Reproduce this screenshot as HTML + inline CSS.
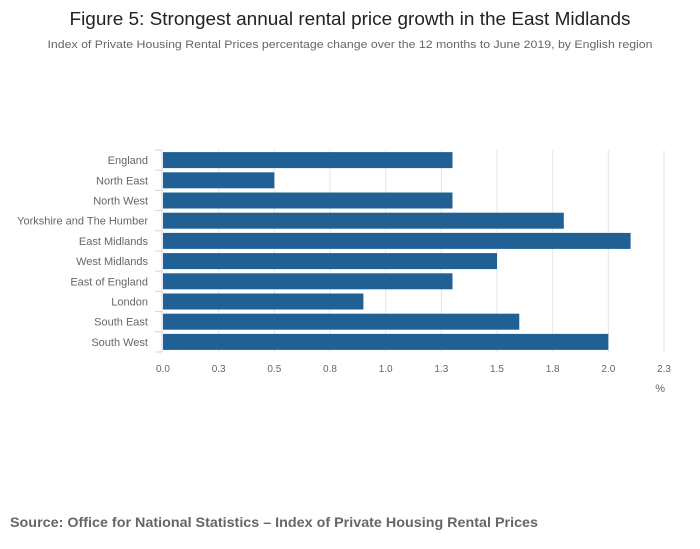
<!DOCTYPE html>
<html><head><meta charset="utf-8"><style>
body{margin:0;background:#fff;}
svg{display:block;font-family:"Liberation Sans",sans-serif;}
</style></head><body>
<svg id="chart" width="700" height="549">
<text x="350" y="25" text-anchor="middle" font-size="18" fill="#222" textLength="561" lengthAdjust="spacingAndGlyphs">Figure 5: Strongest annual rental price growth in the East Midlands</text>
<text x="350" y="48" text-anchor="middle" font-size="11" fill="#666" textLength="605" lengthAdjust="spacingAndGlyphs">Index of Private Housing Rental Prices percentage change over the 12 months to June 2019, by English region</text>
<g id="grid"></g><g id="bars"></g><g id="axes"></g>
<text x="665" y="392" text-anchor="end" font-size="11" fill="#666">%</text>
<text x="10" y="527" font-size="14" font-weight="bold" fill="#666" textLength="528" lengthAdjust="spacingAndGlyphs">Source: Office for National Statistics – Index of Private Housing Rental Prices</text>
</svg>
<script>
const categories=["England","North East","North West","Yorkshire and The Humber","East Midlands","West Midlands","East of England","London","South East","South West"];
const values=[1.3,0.5,1.3,1.8,2.1,1.5,1.3,0.9,1.6,2.0];
const tickValues=[0,0.25,0.5,0.75,1,1.25,1.5,1.75,2,2.25];
const tickLabels=["0.0","0.3","0.5","0.8","1.0","1.3","1.5","1.8","2.0","2.3"];
const NS="http://www.w3.org/2000/svg";
const x0=163,x1=664,yTop=150,yBot=352,xmax=2.25;
const xs=v=>x0+(x1-x0)*v/xmax;
const rowH=(yBot-yTop)/categories.length;
function mk(tag,attrs,parent){const e=document.createElementNS(NS,tag);for(const k in attrs)e.setAttribute(k,attrs[k]);document.getElementById(parent).appendChild(e);return e;}
tickValues.forEach((t,i)=>{
 if(i>0){const g=mk('line',{x1:xs(t),x2:xs(t),y1:yTop,y2:yBot,stroke:'#e6e6e6'},'grid');
 
 }
 const l=mk('text',{x:xs(t),y:372,'text-anchor':'middle','font-size':10,fill:'#666'},'axes');
 l.textContent=tickLabels[i];
 
 
});
const ax=mk('line',{x1:162,x2:162,y1:yTop,y2:yBot,stroke:'#ccd6eb'},'axes');


for(let i=0;i<=categories.length;i++){const tk=mk('line',{x1:155,x2:162,y1:yTop+i*rowH,y2:yTop+i*rowH,stroke:'#ccd6eb'},'axes');
 
 }
categories.forEach((c,i)=>{
 const yc=yTop+rowH*(i+0.5);
 const b=mk('rect',{x:x0,y:yc-8,width:xs(values[i])-x0,height:16,fill:'#206095'},'bars');
 
 
 const l=mk('text',{x:148,y:yc+4,'text-anchor':'end','font-size':11,fill:'#666'},'axes');
 l.textContent=c;
 
 
});
</script>
</body></html>
